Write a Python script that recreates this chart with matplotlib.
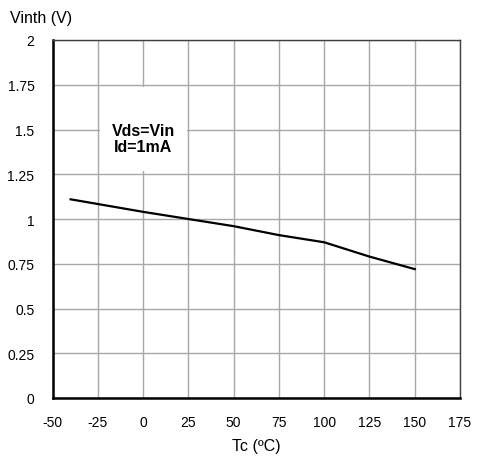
import matplotlib
matplotlib.use("Agg")
import matplotlib.pyplot as plt
from matplotlib.patches import Rectangle

plt.rcParams['font.family'] = ['Liberation Sans', 'DejaVu Sans']

# Gate threshold voltage vs case temperature
temps = [-40, 0, 25, 50, 75, 100, 125, 150]
vth = [1.11, 1.04, 1.00, 0.96, 0.91, 0.87, 0.79, 0.72]

x_ticks = [-50, -25, 0, 25, 50, 75, 100, 125, 150, 175]
y_ticks = [0, 0.25, 0.5, 0.75, 1, 1.25, 1.5, 1.75, 2]
y_labels = ["0", "0.25", "0.5", "0.75", "1", "1.25", "1.5", "1.75", "2"]

fig = plt.figure(figsize=(5.0, 4.64), dpi=100)
ax = fig.add_axes([52.5 / 500, 1 - 399 / 464, (460 - 52.5) / 500, (399 - 41) / 464])

ax.set_xlim(-50, 175)
ax.set_ylim(0, 2)
ax.set_xticks(x_ticks)
ax.set_xticklabels([str(t) for t in x_ticks])
ax.set_yticks(y_ticks)
ax.set_yticklabels(y_labels)
ax.tick_params(length=0, labelsize=10, colors='black')
ax.tick_params(axis='x', pad=12)
ax.tick_params(axis='y', pad=13)

ax.grid(True, color='#a8a8a8', linewidth=1.0)
ax.set_axisbelow(True)

for side in ('top', 'right'):
    ax.spines[side].set_color('#404040')
    ax.spines[side].set_linewidth(1.0)
for side in ('left', 'bottom'):
    ax.spines[side].set_color('black')
    ax.spines[side].set_linewidth(1.8)

ax.plot(temps, vth, color='black', linewidth=1.6, zorder=3)

# white label panel over the grid
ax.add_patch(Rectangle((-23.8, 1.268), 48.1, 0.469, facecolor='white',
                       edgecolor='none', zorder=2))
ax.text(0, 1.45, "Vds=Vin\nId=1mA", ha='center', va='center', fontsize=11.5,
        fontweight='bold', linespacing=1.15, zorder=4)

ax.set_xlabel("Tc (ºC)", fontsize=11.5, labelpad=7)
fig.text(10 / 500, 1 - 18 / 464, "Vinth (V)", fontsize=11.5, va='center', ha='left')

fig.savefig("out.png", dpi=100)
